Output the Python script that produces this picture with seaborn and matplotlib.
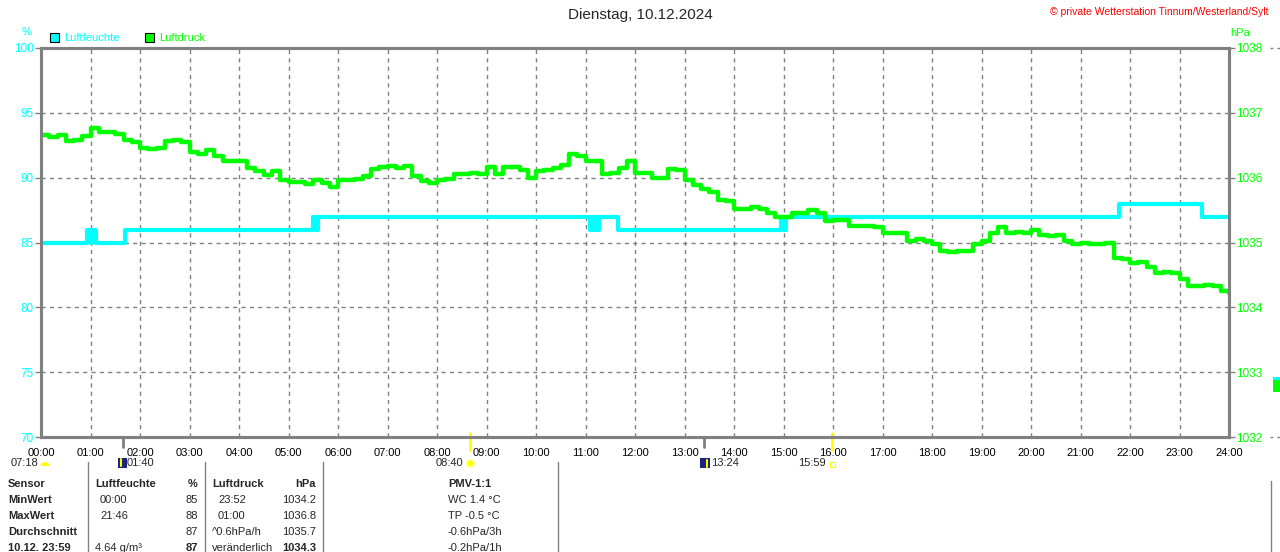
import matplotlib
matplotlib.use("Agg")
import matplotlib.pyplot as plt
import matplotlib.transforms as mtransforms
from matplotlib.patches import Rectangle, Ellipse
import pandas as pd
import seaborn as sns

# Luftfeuchte (%) - Stufenverlauf, Stunden
hum_t = [0.0, 0.93, 1.0, 1.03, 1.12, 1.70, 5.50, 5.55, 5.60, 11.10, 11.15, 11.22, 11.27,
         11.65, 14.95, 15.0, 15.05, 21.78, 23.45, 24.0]
hum_v = [85, 86, 85, 86, 85, 86, 87, 86, 87, 86, 87, 86, 87,
         86, 87, 86, 87, 88, 87, 87]

# Luftdruck (hPa) alle 10 min
p_t = [i / 6 for i in range(145)]
p_v = [1036.66, 1036.62, 1036.66, 1036.56, 1036.58, 1036.64,
       1036.76, 1036.70, 1036.70, 1036.68, 1036.58, 1036.55,
       1036.46, 1036.44, 1036.46, 1036.56, 1036.58, 1036.55,
       1036.40, 1036.37, 1036.42, 1036.33, 1036.26, 1036.25,
       1036.26, 1036.15, 1036.10, 1036.04, 1036.10, 1035.97,
       1035.94, 1035.93, 1035.90, 1035.96, 1035.92, 1035.86,
       1035.97, 1035.96, 1035.98, 1036.02, 1036.14, 1036.17,
       1036.18, 1036.15, 1036.18, 1036.03, 1035.95, 1035.92,
       1035.97, 1035.98, 1036.06, 1036.06, 1036.07, 1036.05,
       1036.17, 1036.05, 1036.17, 1036.16, 1036.12, 1035.99,
       1036.10, 1036.12, 1036.15, 1036.20, 1036.36, 1036.33,
       1036.26, 1036.25, 1036.05, 1036.07, 1036.15, 1036.26,
       1036.07, 1036.07, 1036.00, 1036.00, 1036.13, 1036.12,
       1035.97, 1035.88, 1035.82, 1035.78, 1035.66, 1035.64,
       1035.52, 1035.52, 1035.55, 1035.52, 1035.45, 1035.40,
       1035.40, 1035.46, 1035.46, 1035.50, 1035.46, 1035.33,
       1035.34, 1035.34, 1035.25, 1035.25, 1035.25, 1035.24,
       1035.15, 1035.15, 1035.14, 1035.02, 1035.06, 1035.02,
       1034.97, 1034.87, 1034.85, 1034.87, 1034.87, 1034.97,
       1035.02, 1035.15, 1035.24, 1035.15, 1035.16, 1035.15,
       1035.20, 1035.12, 1035.10, 1035.12, 1035.02, 1034.97,
       1035.00, 1034.97, 1034.97, 1035.00, 1034.76, 1034.74,
       1034.69, 1034.70, 1034.62, 1034.53, 1034.54, 1034.53,
       1034.43, 1034.33, 1034.33, 1034.35, 1034.33, 1034.25,
       1034.22]

hum_ticks = [70, 75, 80, 85, 90, 95, 100]
p_ticks = [1032, 1033, 1034, 1035, 1036, 1037, 1038]
hour_labels = ["%02d:00" % h for h in range(25)]

# Tabelle unten
tab_sensor = ["Sensor", "MinWert", "MaxWert", "Durchschnitt", "10.12. 23:59"]
tab_hum_time = ["Luftfeuchte", "00:00", "21:46", "", "4.64 g/m³"]
tab_hum_val = ["%", "85", "88", "87", "87"]
tab_p_time = ["Luftdruck", "23:52", "01:00", "^0.6hPa/h", "veränderlich"]
tab_p_val = ["hPa", "1034.2", "1036.8", "1035.7", "1034.3"]
tab_pmv = ["PMV-1:1", "WC 1.4 °C", "TP -0.5 °C", "-0.6hPa/3h", "-0.2hPa/1h"]

CYAN = "#00ffff"
GREEN = "#00ff00"
GRAY = "#808080"
NAVY = "#1a237e"

sns.set_style("white")
plt.rcParams["font.family"] = ["Liberation Sans", "DejaVu Sans"]

W, H = 1280, 552
fig = plt.figure(figsize=(12.8, 5.52), dpi=100)


def fy(py):
    return 1 - py / H


def fx(px):
    return px / W


def frect(x0, y0, w, h, **kw):
    # Rechteck in Pixeln (oben links x0,y0)
    fig.patches.append(Rectangle((fx(x0), fy(y0 + h)), w / W, h / H,
                                 transform=fig.transFigure, **kw))


ax = fig.add_axes([fx(41), fy(437), fx(1229 - 41), (437 - 48) / H])
ax2 = ax.twinx()

df_h = pd.DataFrame({"t": hum_t, "v": hum_v})
df_p = pd.DataFrame({"t": p_t, "v": p_v})
sns.lineplot(data=df_h, x="t", y="v", ax=ax, color=CYAN, lw=3, drawstyle="steps-post",
             estimator=None, legend=False)
sns.lineplot(data=df_p, x="t", y="v", ax=ax2, color=GREEN, lw=3.2, drawstyle="steps-post",
             estimator=None, legend=False)

ax.set_xlim(0, 24)
ax.set_ylim(70, 100)
ax2.set_ylim(1032, 1038)
ax.set_xlabel("")
ax.set_ylabel("")
ax2.set_ylabel("")

# Gitter
for h in range(1, 24):
    ax.axvline(h, color=GRAY, lw=1, ls=(0, (3, 3)), zorder=0)
for v in hum_ticks[1:-1]:
    ax.axhline(v, color=GRAY, lw=1, ls=(0, (3, 3)), zorder=0)

for a in (ax, ax2):
    for s in a.spines.values():
        s.set_color(GRAY)
        s.set_linewidth(2.2)

ax.set_xticks(range(25))
ax.set_xticklabels(hour_labels, fontsize=8)
ax.tick_params(axis="x", length=0, pad=8, colors="black")
ax.set_yticks(hum_ticks)
ax.set_yticklabels([str(v) for v in hum_ticks], fontsize=8.5, color=CYAN)
ax.tick_params(axis="y", length=4, pad=1, color=GRAY, width=1)
ax2.set_yticks(p_ticks)
ax2.set_yticklabels([str(v) for v in p_ticks], fontsize=8.5, color=GREEN)
ax2.tick_params(axis="y", length=4, pad=1, color=GRAY, width=1)

# Titel und Kopf
fig.text(0.5, fy(15), "Dienstag, 10.12.2024", ha="center", va="center", fontsize=11)
fig.text(fx(1268), fy(12), "© private Wetterstation Tinnum/Westerland/Sylt", ha="right",
         va="center", fontsize=7.5, color="red")
fig.text(fx(27), fy(32), "%", ha="center", va="center", fontsize=8, color=CYAN)
fig.text(fx(1240), fy(33), "hPa", ha="center", va="center", fontsize=8, color=GREEN)

frect(50, 33, 9, 9, facecolor=CYAN, edgecolor="black", lw=0.8)
fig.text(fx(64), fy(38), "Luftfeuchte", ha="left", va="center", fontsize=8, color=CYAN)
frect(145, 33, 9, 9, facecolor=GREEN, edgecolor="black", lw=0.8)
fig.text(fx(159), fy(38), "Luftdruck", ha="left", va="center", fontsize=8, color=GREEN)

# Sonne / Mond Markierungen
tr = mtransforms.blended_transform_factory(ax.transData, fig.transFigure)
ax.plot([1 + 40 / 60] * 2, [fy(437), fy(447)], transform=tr, color=GRAY, lw=2, clip_on=False)
ax.plot([13.4] * 2, [fy(437), fy(447)], transform=tr, color=GRAY, lw=2, clip_on=False)
ax.plot([8 + 40 / 60] * 2, [fy(433), fy(450)], transform=tr, color="yellow", lw=2, clip_on=False)
ax.plot([15 + 59 / 60] * 2, [fy(433), fy(450)], transform=tr, color="yellow", lw=2, clip_on=False)

fig.text(fx(38), fy(463), "07:18", ha="right", va="center", fontsize=8)
fig.patches.append(Ellipse((fx(45), fy(466)), 9 / W, 8 / H, transform=fig.transFigure,
                           facecolor="yellow", edgecolor="none"))
frect(40, 466, 11, 4, facecolor="white", edgecolor="none")

frect(118, 458, 9, 10, facecolor=NAVY, edgecolor="none")
fig.add_artist(plt.Line2D([fx(121)] * 2, [fy(459), fy(466)], transform=fig.transFigure,
                          color="yellow", lw=1.5))
fig.text(fx(127), fy(463), "01:40", ha="left", va="center", fontsize=8)

fig.text(fx(463), fy(463), "08:40", ha="right", va="center", fontsize=8)
fig.add_artist(plt.Line2D([fx(470)], [fy(463)], transform=fig.transFigure, marker="o",
                          markersize=5, color="yellow", markeredgecolor="#ffff66"))

frect(700, 458, 10, 10, facecolor=NAVY, edgecolor="none")
fig.add_artist(plt.Line2D([fx(707)] * 2, [fy(460), fy(467)], transform=fig.transFigure,
                          color="yellow", lw=1.5))
fig.text(fx(711), fy(463), "13:24", ha="left", va="center", fontsize=8)

fig.text(fx(826), fy(463), "15:59", ha="right", va="center", fontsize=8)
frect(830, 462, 5, 5, facecolor="none", edgecolor="yellow", lw=0.8)

# kleine Marker rechts
frect(1273, 377, 7, 15, facecolor=GREEN, edgecolor="none")
frect(1273, 377, 7, 3, facecolor=CYAN, edgecolor="none")
for py in (48, 437):
    fig.add_artist(plt.Line2D([fx(1270), fx(1280)], [fy(py)] * 2, transform=fig.transFigure,
                              color=GRAY, lw=1, ls=(0, (2, 3))))

# Tabelle
rows_y = [484, 500, 516, 532, 548]
for i, y in enumerate(rows_y):
    w = "bold" if i == 0 else "normal"
    fig.text(fx(8), fy(y), tab_sensor[i], ha="left", va="center", fontsize=8, weight="bold")
    fig.text(fx(95 if i in (0, 4) else 100), fy(y), tab_hum_time[i], ha="left", va="center",
             fontsize=8, weight=w)
    fig.text(fx(198), fy(y), tab_hum_val[i], ha="right", va="center", fontsize=8,
             weight="bold" if i in (0, 4) else "normal")
    fig.text(fx(212 if i in (0, 3, 4) else 218), fy(y), tab_p_time[i], ha="left", va="center",
             fontsize=8, weight=w)
    fig.text(fx(316), fy(y), tab_p_val[i], ha="right", va="center", fontsize=8,
             weight="bold" if i in (0, 4) else "normal")
    fig.text(fx(470) if i == 0 else fx(448), fy(y), tab_pmv[i],
             ha="center" if i == 0 else "left", va="center", fontsize=8, weight=w)

for px in (88, 205, 323, 558):
    fig.add_artist(plt.Line2D([fx(px)] * 2, [fy(462), 0], transform=fig.transFigure,
                              color=GRAY, lw=1))
fig.add_artist(plt.Line2D([fx(1271)] * 2, [fy(481), 0], transform=fig.transFigure,
                          color=GRAY, lw=1))

fig.savefig("out.png", dpi=100)
